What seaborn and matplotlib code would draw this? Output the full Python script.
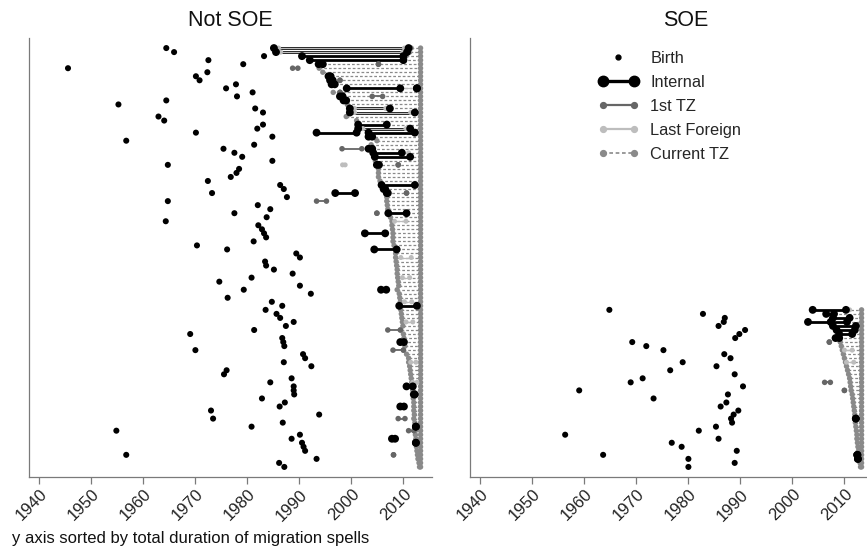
import numpy as np
import pandas as pd
import matplotlib
matplotlib.use("Agg")
import matplotlib.pyplot as plt
from matplotlib.lines import Line2D
from matplotlib.legend_handler import HandlerLine2D
import seaborn as sns

# ---------------- data ----------------
SURVEY_YEAR = 2013.3
YEAR_TICKS = [1940, 1950, 1960, 1970, 1980, 1990, 2000, 2010]
PANELS = ["Not SOE", "SOE"]
LEGEND_LABELS = ["Birth", "Internal", "1st TZ", "Last Foreign", "Current TZ"]
NOTE = "y axis sorted by total duration of migration spells"

# Not SOE (rank 0 = longest total duration, top of the panel)
ns_birth_rank = list(range(0, 105))
ns_birth_year = [1964.4, 1965.9, 1983.2, 1972.5, 1979.2, 1945.5, 1972.3, 1970.1, 1970.8, 1977.8,
                 1975.9, 1981.0, 1978.0, 1964.4, 1955.2, 1981.5, 1983.0, 1962.9, 1964.0, 1983.0,
                 1981.9, 1970.1, 1984.8, 1956.7, 1981.3, 1975.4, 1977.5, 1979.0, 1984.8, 1964.7,
                 1978.4, 1977.9, 1976.8, 1972.4, 1986.3, 1987.0, 1973.2, 1987.6, 1964.7, 1982.0,
                 1984.4, 1977.5, 1983.7, 1964.3, 1982.1, 1982.8, 1983.2, 1983.6, 1981.2, 1970.3,
                 1976.1, 1989.4, 1990.1, 1983.4, 1983.6, 1985.1, 1988.7, 1980.8, 1974.6, 1990.1,
                 1979.3, 1992.2, 1976.2, 1984.7, 1986.7, 1983.5, 1985.6, 1986.3, 1988.9, 1987.4,
                 1981.3, 1969.0, 1986.7, 1986.9, 1987.1, 1970.0, 1990.7, 1991.1, 1987.0, 1992.3,
                 1976.0, 1975.5, 1988.5, 1984.4, 1988.9, 1988.9, 1989.0, 1982.8, 1987.2, 1986.2,
                 1973.0, 1993.8, 1973.4, 1986.8, 1980.8, 1954.8, 1990.1, 1988.5, 1990.5, 1990.8,
                 1991.1, 1956.7, 1993.3, 1986.1, 1987.1]
ns_cur_start = [2011.5, 2011.2, 2010.5, 2010.0, 1994.5, 1993.8, 1994.5, 1996.0, 1996.4, 1996.8,
                2009.4, 1996.5, 1998.3, 1999.0, 1999.2, 2007.4, 2012.5, 1999.0, 2001.0, 2006.8,
                2011.3, 2012.4, 2003.5, 2004.9, 2003.8, 2004.0, 2004.2, 2004.5, 2004.6, 2005.0,
                2005.2, 2005.2, 2005.2, 2005.5, 2005.8, 2006.2, 2006.8, 2006.8, 2006.8, 2006.9,
                2007.0, 2007.1, 2007.5, 2007.8, 2007.8, 2007.9, 2008.0, 2008.0, 2008.0, 2008.2,
                2008.7, 2008.5, 2008.5, 2008.6, 2008.7, 2008.8, 2008.8, 2008.9, 2009.0, 2009.1,
                2008.8, 2009.2, 2009.3, 2009.4, 2009.2, 2009.5, 2009.6, 2009.7, 2009.8, 2009.9,
                2009.5, 2010.0, 2010.1, 2010.0, 2010.3, 2010.0, 2010.6, 2011.0, 2011.0, 2011.2,
                2011.3, 2011.4, 2011.5, 2011.6, 2011.8, 2011.8, 2012.2, 2011.9, 2012.0, 2012.0,
                2012.0, 2012.1, 2012.0, 2012.2, 2012.4, 2012.3, 2012.3, 2012.4, 2012.4, 2012.5,
                2012.6, 2012.7, 2012.8, 2013.0, 2013.1]
ns_int_rank = [0, 1, 2, 3, 4, 7, 8, 9, 10, 10, 12, 13, 15, 16, 19, 20, 21, 21, 22, 25,
               26, 27, 29, 34, 35, 36, 36, 41, 46, 50, 60, 64, 73, 84, 86, 89, 94, 97, 98]
ns_int_start = [1985.1, 1985.5, 1990.5, 1992.0, 1993.7, 1995.6, 1995.9, 1996.2, 1999.1, 2012.6,
                1997.8, 1998.5, 1999.7, 1999.7, 2001.3, 2001.3, 1993.3, 2003.3, 2003.3, 2003.3,
                2004.2, 2004.5, 2004.9, 2005.8, 2006.2, 1996.9, 2006.8, 2007.1, 2002.6, 2004.4,
                2005.7, 2009.2, 2009.4, 2010.6, 2012.0, 2009.4, 2012.4, 2007.8, 2012.4]
ns_int_end = [2011.0, 2010.7, 2010.0, 2010.0, 1994.5, 1996.0, 1996.4, 1996.8, 2009.4, 2012.6,
              1998.3, 1999.0, 2007.4, 2012.2, 2006.8, 2011.3, 2001.0, 2012.2, 2004.0, 2004.0,
              2009.7, 2011.3, 2005.3, 2012.2, 2006.5, 2000.7, 2007.0, 2010.6, 2006.5, 2008.7,
              2006.7, 2012.6, 2010.1, 2011.8, 2012.2, 2010.1, 2012.4, 2008.4, 2012.4]
ns_tz1_rank = [4, 5, 8, 11, 12, 25, 29, 36, 38, 41, 70, 75, 92, 95, 101]
ns_tz1_start = [2005.2, 1988.7, 1997.8, 1997.8, 2004.0, 1998.2, 2009.0, 2010.6, 1993.3, 2004.9,
                2007.0, 2008.0, 2009.0, 2011.0, 2008.1]
ns_tz1_end = [2005.2, 1989.7, 1997.8, 1997.8, 2006.0, 2002.0, 2009.0, 2010.6, 1995.2, 2004.9,
              2009.4, 2010.0, 2010.3, 2012.0, 2008.1]
ns_lf_rank = [0, 1, 10, 15, 16, 20, 26, 29, 43, 52, 57, 63, 68, 78, 83]
ns_lf_start = [1986.0, 1986.4, 2009.4, 2000.6, 2000.6, 2002.2, 2009.7, 1998.3, 2008.3, 2009.5,
               2009.8, 2010.2, 2010.5, 2011.4, 2011.8]
ns_lf_end = [2010.2, 2009.9, 2012.6, 2006.6, 2011.4, 2010.5, 2011.0, 1998.8, 2010.5, 2011.5,
             2011.2, 2011.6, 2011.8, 2012.4, 2012.6]

# SOE
soe_birth_rank = list(range(65, 105))
soe_birth_year = [1964.8, 1982.8, 1987.0, 1986.8, 1985.8, 1990.9, 1989.8, 1989.0, 1969.2, 1971.9,
                  1975.2, 1986.9, 1988.1, 1978.9, 1985.4, 1976.5, 1988.9, 1971.2, 1968.9, 1990.5,
                  1959.0, 1987.6, 1973.3, 1987.3, 1986.2, 1989.6, 1988.7, 1988.2, 1988.4, 1985.3,
                  1982.0, 1956.3, 1985.8, 1976.8, 1978.7, 1989.3, 1963.6, 1980.0, 1988.9, 1980.0]
soe_cur_start = [2010.3, 2008.0, 2011.0, 2010.5, 2012.2, 2012.0, 2011.5, 2009.0, 2009.2, 2009.4,
                 2009.6, 2009.8, 2010.0, 2010.2, 2010.4, 2010.6, 2010.8, 2011.0, 2011.1, 2011.2,
                 2011.3, 2011.5, 2011.6, 2011.7, 2011.8, 2011.9, 2012.0, 2012.2, 2012.1, 2012.2,
                 2012.3, 2012.4, 2012.4, 2012.5, 2012.6, 2012.7, 2012.8, 2012.9, 2013.0, 2013.1]
soe_int_rank = [65, 66, 67, 68, 68, 69, 70, 71, 72, 92, 101, 102]
soe_int_start = [2003.9, 2006.5, 2007.8, 2003.0, 2007.4, 2007.8, 2008.5, 2009.0, 2008.3, 2012.2,
                 2012.5, 2012.6]
soe_int_end = [2010.3, 2008.0, 2011.0, 2007.4, 2010.5, 2012.2, 2012.0, 2011.5, 2009.0, 2012.2,
               2012.5, 2012.6]
soe_tz1_rank = [73, 83, 85, 101]
soe_tz1_start = [2007.1, 2006.2, 2010.0, 2012.2]
soe_tz1_end = [2007.1, 2007.3, 2010.0, 2012.2]
soe_lf_rank = [65, 75, 78]
soe_lf_start = [2010.3, 2010.0, 2010.4]
soe_lf_end = [2011.0, 2011.5, 2011.8]

# ---------------- style ----------------
sns.set_theme(style="white")
plt.rcParams['font.family'] = ['Liberation Sans', 'DejaVu Sans']

C_BLACK = "#000000"
C_TZ1 = "#666666"
C_LF = "#bdbdbd"
C_CUR = "#8a8a8a"
C_SPINE = "#7a7a7a"
DASH = (0, (2.2, 1.6))

fig = plt.figure(figsize=(8.67, 5.48), dpi=100)
axL = fig.add_axes([29 / 867, 71 / 548, 403 / 867, 439 / 548])
axR = fig.add_axes([470 / 867, 71 / 548, 403 / 867, 439 / 548])


def dots(ax, xs, ys, color, size, z):
    df = pd.DataFrame({"year": np.asarray(xs, float), "rank": np.asarray(ys, float)})
    sns.scatterplot(data=df, x="year", y="rank", color=color, s=size, linewidth=0,
                    edgecolor="none", ax=ax, zorder=z, legend=False)


def draw_panel(ax, b_rank, b_year, cur_start, cur_rank0,
               i_rank, i_s, i_e, t_rank, t_s, t_e, l_rank, l_s, l_e):
    ranks = np.arange(cur_rank0, cur_rank0 + len(cur_start))
    ax.hlines(ranks, cur_start, SURVEY_YEAR, colors=C_CUR, linestyles=[DASH], lw=0.9, zorder=1)
    dots(ax, list(cur_start) + [SURVEY_YEAR] * len(ranks), list(ranks) * 2, C_CUR, 15, 2)
    ax.hlines(i_rank, i_s, i_e, colors=C_BLACK, lw=2.0, zorder=3)
    ax.hlines(l_rank, l_s, l_e, colors=C_LF, lw=0.9, zorder=4)
    dots(ax, list(l_s) + list(l_e), list(l_rank) * 2, C_LF, 13, 4)
    ax.hlines(t_rank, t_s, t_e, colors=C_TZ1, lw=1.3, zorder=5)
    dots(ax, list(t_s) + list(t_e), list(t_rank) * 2, C_TZ1, 16, 5)
    dots(ax, list(i_s) + list(i_e), list(i_rank) * 2, C_BLACK, 32, 6)
    dots(ax, b_year, b_rank, C_BLACK, 19, 7)


draw_panel(axL, ns_birth_rank, ns_birth_year, ns_cur_start, 0,
           ns_int_rank, ns_int_start, ns_int_end, ns_tz1_rank, ns_tz1_start, ns_tz1_end,
           ns_lf_rank, ns_lf_start, ns_lf_end)
draw_panel(axR, soe_birth_rank, soe_birth_year, soe_cur_start, 65,
           soe_int_rank, soe_int_start, soe_int_end, soe_tz1_rank, soe_tz1_start, soe_tz1_end,
           soe_lf_rank, soe_lf_start, soe_lf_end)

for ax in (axL, axR):
    ax.set_xlim(1938.0, 1938.0 + 403 / 5.2)
    ax.set_ylim(106.5, -2.5)
    ax.set_xlabel("")
    ax.set_ylabel("")
    ax.set_yticks([])
    ax.set_xticks(YEAR_TICKS)
    ax.set_xticklabels([str(t) for t in YEAR_TICKS], rotation=45, ha="right",
                       rotation_mode="anchor", fontsize=12, color="#222222")
    ax.tick_params(axis="x", direction="out", length=5, width=0.9, color=C_SPINE, pad=2,
                   bottom=True)
    for side in ("top", "right"):
        ax.spines[side].set_visible(False)
    for side in ("left", "bottom"):
        ax.spines[side].set_color(C_SPINE)
        ax.spines[side].set_linewidth(0.9)

fig.text((29 + 201.5) / 867, 1 - 21 / 548, PANELS[0], ha="center", va="center",
         fontsize=15.5, color="#111111")
fig.text(686 / 867, 1 - 21 / 548, PANELS[1], ha="center", va="center",
         fontsize=15.5, color="#111111")
fig.text(12 / 867, 1 - 538 / 548, NOTE, ha="left", va="center", fontsize=12, color="#111111")

h_birth = Line2D([], [], marker="o", ls="none", color=C_BLACK, ms=3.5)
h_int = Line2D([], [], marker="o", ls="-", color=C_BLACK, lw=2.4, ms=7.5)
h_tz1 = Line2D([], [], marker="o", ls="-", color=C_TZ1, lw=1.6, ms=4.2)
h_lf = Line2D([], [], marker="o", ls="-", color=C_LF, lw=1.6, ms=4.2)
h_cur = Line2D([], [], marker="o", ls=DASH, color=C_CUR, lw=1.2, ms=4.2)
axR.legend([h_birth, h_int, h_tz1, h_lf, h_cur], LEGEND_LABELS, loc="upper left",
           bbox_to_anchor=((598 - 470) / 403, (477 - 51) / 439), frameon=False,
           numpoints=2, handlelength=2.5, handletextpad=0.7, labelspacing=0.55,
           borderpad=0, borderaxespad=0, fontsize=11.8,
           handler_map={h_birth: HandlerLine2D(numpoints=1)})

fig.savefig("out.png", dpi=100)
